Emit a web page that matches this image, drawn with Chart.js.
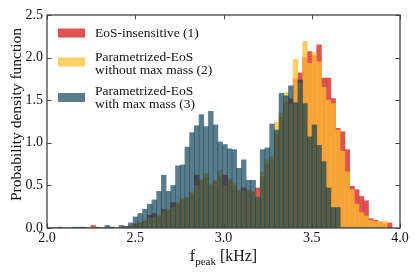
<!DOCTYPE html>
<html>
<head>
<meta charset="utf-8">
<script src="https://cdn.jsdelivr.net/npm/chart.js@4.4.0/dist/chart.umd.min.js"></script>
<style>
  html, body { margin: 0; padding: 0; background: #fff; }
  #wrap { width: 415px; height: 277px; position: relative; }
</style>
</head>
<body>
<div id="wrap"><canvas id="pdf-chart"></canvas></div>
<script>
// histogram bins, f_peak in kHz
var binStart = 2.008;
var binWidth = 0.02667;

// probability density per bin
var eosInsensitive = [
  0, 0, 0, 0, 0, 0, 0, 0, 0, 0.03, 0, 0, 0, 0.01, 0, 0, 0.02,
  0.02, 0.04, 0.06, 0.08, 0.15, 0.17, 0.14, 0.22, 0.20, 0.30,
  0.28, 0.33, 0.35, 0.40, 0.62, 0.55, 0.60, 0.50, 0.54, 0.60,
  0.62, 0.55, 0.50, 0.43, 0.47, 0.44, 0.42, 0.47, 0.60, 0.75,
  0.80, 1.10, 1.30, 1.48, 1.52, 1.75, 1.82, 2.00, 2.07, 2.02,
  2.15, 1.76, 1.76, 1.52, 1.17, 1.13, 0.92, 0.49, 0.45, 0.37,
  0.32, 0.11, 0.09, 0.07, 0.05, 0.06
];
var paramNoMaxMass = [
  0, 0, 0, 0, 0, 0, 0, 0, 0.01, 0, 0, 0, 0, 0, 0.01, 0, 0.02,
  0.03, 0.05, 0.06, 0.09, 0.12, 0.12, 0.15, 0.19, 0.22, 0.24,
  0.30, 0.35, 0.36, 0.42, 0.50, 0.57, 0.64, 0.52, 0.56, 0.68,
  0.50, 0.58, 0.52, 0.45, 0.43, 0.45, 0.43, 0.36, 0.66, 0.80,
  0.84, 1.24, 1.35, 1.59, 1.45, 1.98, 1.70, 2.19, 1.93, 2.06,
  1.95, 1.65, 1.50, 1.46, 1.15, 0.90, 0.66, 0.45, 0.28, 0.18,
  0.14, 0.09, 0.08, 0.07, 0.08, 0
];
var paramMaxMass = [
  0, 0, 0.01, 0, 0, 0.01, 0.01, 0.01, 0, 0, 0.01, 0, 0.03, 0.01, 0, 0.03, 0.02,
  0.06, 0.13, 0.17, 0.22, 0.28, 0.33, 0.43, 0.62, 0.43, 0.50,
  0.73, 0.74, 0.95, 1.12, 1.20, 1.33, 1.19, 1.37, 1.21, 1.01,
  0.98, 0.93, 0.92, 0.70, 0.80, 0.56, 0.56, 0.36, 0.92, 0.94,
  1.22, 1.15, 1.58, 1.55, 1.67, 1.47, 1.74, 1.46, 1.07, 1.21,
  0.97, 0.78, 0.47, 0.24, 0.24, 0, 0, 0, 0, 0,
  0, 0, 0, 0, 0, 0
];

var seriesLabels = [
  ["EoS-insensitive (1)"],
  ["Parametrized-EoS", "without max mass (2)"],
  ["Parametrized-EoS", "with max mass (3)"]
];
var seriesColors = ['rgba(215, 40, 40, 0.8)', 'rgba(255, 190, 50, 0.75)', 'rgba(0, 55, 78, 0.65)'];
var yTitle = "Probability density function";

var serif = "'Liberation Serif', 'DejaVu Serif', serif";

//Turn bin values into {x, y} points at the bin centres
var toPoints = function(values) {
  var pts = [];
  for (var i = 0; i < values.length; i++) {
    pts.push({ x: binStart + binWidth * (i + 0.5), y: values[i] });
  }
  return pts;
};

//Frame, inward ticks, legend and axis titles
var decorPlugin = {
  id: 'decor',
  afterDraw: function(chart) {
    var c = chart.ctx;
    var a = chart.chartArea;
    var xs = chart.scales.x;
    var ys = chart.scales.y;
    c.save();

    c.strokeStyle = '#444';
    c.lineWidth = 1.3;
    c.strokeRect(a.left, a.top, a.right - a.left, a.bottom - a.top);

    c.lineWidth = 1;
    c.beginPath();
    for (var t of xs.ticks) {
      var px = Math.round(xs.getPixelForValue(t.value)) + 0.5;
      c.moveTo(px, a.bottom); c.lineTo(px, a.bottom - 4.5);
      c.moveTo(px, a.top); c.lineTo(px, a.top + 4.5);
    }
    for (var t of ys.ticks) {
      var py = Math.round(ys.getPixelForValue(t.value)) + 0.5;
      c.moveTo(a.left, py); c.lineTo(a.left + 4.5, py);
      c.moveTo(a.right, py); c.lineTo(a.right - 4.5, py);
    }
    c.stroke();

    // legend inside the plot, top left
    var patchY = [33, 62, 97.5];
    var lineY = [[33.5], [57, 70], [91.5, 104.5]];
    c.font = '13.5px ' + serif;
    c.textBaseline = 'middle';
    c.textAlign = 'left';
    for (var i = 0; i < seriesLabels.length; i++) {
      c.fillStyle = seriesColors[i];
      c.fillRect(a.left + 11, patchY[i] - 4.5, 27, 9);
      c.fillStyle = '#111';
      for (var j = 0; j < seriesLabels[i].length; j++) {
        c.fillText(seriesLabels[i][j], a.left + 48, lineY[i][j]);
      }
    }

    // y title
    c.save();
    c.translate(21, (a.top + a.bottom) / 2 - 7);
    c.rotate(-Math.PI / 2);
    c.textAlign = 'center';
    c.textBaseline = 'alphabetic';
    c.font = '15.5px ' + serif;
    c.fillText(yTitle, 0, 0);
    c.restore();

    // x title f_peak [kHz]
    c.textBaseline = 'alphabetic';
    c.font = '16px ' + serif;
    var wF = c.measureText('f').width;
    var wU = c.measureText(' [kHz]').width;
    c.font = '11px ' + serif;
    var wS = c.measureText('peak').width;
    var x0 = (a.left + a.right) / 2 - (wF + wS + wU) / 2;
    var base = 261;
    c.font = '16px ' + serif;
    c.fillText('f', x0, base);
    c.font = '11px ' + serif;
    c.fillText('peak', x0 + wF, base + 4);
    c.font = '16px ' + serif;
    c.fillText(' [kHz]', x0 + wF + wS, base);

    c.restore();
  }
};

var ctx = document.getElementById('pdf-chart').getContext('2d');
var pdfChart = new Chart(ctx, {
  type: 'bar',
  data: {
    datasets: [{
      label: seriesLabels[0].join(' '),
      data: toPoints(eosInsensitive),
      backgroundColor: seriesColors[0],
      order: 3
    }, {
      label: seriesLabels[1].join(' '),
      data: toPoints(paramNoMaxMass),
      backgroundColor: seriesColors[1],
      order: 2
    }, {
      label: seriesLabels[2].join(' '),
      data: toPoints(paramMaxMass),
      backgroundColor: seriesColors[2],
      order: 1
    }]
  },
  options: {
    responsive: true,
    maintainAspectRatio: false,
    animation: false,
    devicePixelRatio: 1,
    layout: { padding: { top: 15, right: 15, left: 0, bottom: 0 } },
    datasets: {
      bar: { grouped: false, barPercentage: 1, categoryPercentage: 1, borderWidth: 0 }
    },
    plugins: {
      legend: { display: false },
      tooltip: { enabled: false }
    },
    scales: {
      x: {
        type: 'linear',
        min: 2,
        max: 4,
        offset: false,
        afterFit: function(s) { s.height = 49; },
        grid: { display: false, drawTicks: false, offset: false },
        border: { display: false },
        ticks: {
          stepSize: 0.5,
          padding: 2,
          color: '#111',
          maxRotation: 0,
          autoSkip: false,
          font: { family: serif, size: 14 },
          callback: function(v) { return v.toFixed(1); }
        }
      },
      y: {
        min: 0,
        max: 2.5,
        afterFit: function(s) { s.width = 47; },
        grid: { display: false, drawTicks: false },
        border: { display: false },
        ticks: {
          stepSize: 0.5,
          padding: 4,
          color: '#111',
          font: { family: serif, size: 14 },
          callback: function(v) { return v.toFixed(1); }
        }
      }
    }
  },
  plugins: [decorPlugin]
});
</script>
</body>
</html>
